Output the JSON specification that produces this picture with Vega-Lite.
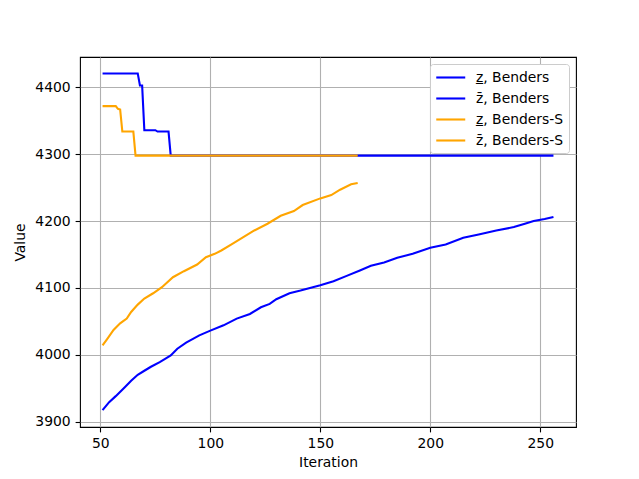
{
  "$schema": "https://vega.github.io/schema/vega-lite/v6.json",
  "width": 496,
  "height": 370,
  "autosize": "none",
  "padding": {"left": 80, "top": 57, "right": 63, "bottom": 52},
  "background": "white",
  "config": {
    "font": "DejaVu Sans",
    "view": {"stroke": "black", "strokeWidth": 1.1},
    "axis": {
      "domain": false,
      "grid": true,
      "gridColor": "#b0b0b0",
      "gridWidth": 1.1,
      "tickColor": "black",
      "tickSize": 4.9,
      "tickWidth": 1.1,
      "labelFontSize": 13.9,
      "labelColor": "black",
      "labelPadding": 4.9,
      "titleFontSize": 13.9,
      "titleFontWeight": "normal",
      "titleColor": "black"
    }
  },
  "data": {
    "values": [
      {"s": "z̲, Benders", "it": 51, "v": 3917},
      {"s": "z̲, Benders", "it": 54, "v": 3929},
      {"s": "z̲, Benders", "it": 57, "v": 3938},
      {"s": "z̲, Benders", "it": 61, "v": 3951},
      {"s": "z̲, Benders", "it": 64, "v": 3961},
      {"s": "z̲, Benders", "it": 67, "v": 3970},
      {"s": "z̲, Benders", "it": 70, "v": 3976},
      {"s": "z̲, Benders", "it": 73, "v": 3982},
      {"s": "z̲, Benders", "it": 77, "v": 3989},
      {"s": "z̲, Benders", "it": 80, "v": 3995},
      {"s": "z̲, Benders", "it": 82, "v": 3999},
      {"s": "z̲, Benders", "it": 85, "v": 4009},
      {"s": "z̲, Benders", "it": 89, "v": 4018},
      {"s": "z̲, Benders", "it": 95, "v": 4029},
      {"s": "z̲, Benders", "it": 100, "v": 4036},
      {"s": "z̲, Benders", "it": 106, "v": 4044},
      {"s": "z̲, Benders", "it": 112, "v": 4054},
      {"s": "z̲, Benders", "it": 118, "v": 4061},
      {"s": "z̲, Benders", "it": 123, "v": 4071},
      {"s": "z̲, Benders", "it": 127, "v": 4076},
      {"s": "z̲, Benders", "it": 130, "v": 4083},
      {"s": "z̲, Benders", "it": 136, "v": 4092},
      {"s": "z̲, Benders", "it": 141, "v": 4096},
      {"s": "z̲, Benders", "it": 150, "v": 4104},
      {"s": "z̲, Benders", "it": 156, "v": 4110},
      {"s": "z̲, Benders", "it": 162, "v": 4118},
      {"s": "z̲, Benders", "it": 168, "v": 4126},
      {"s": "z̲, Benders", "it": 173, "v": 4133},
      {"s": "z̲, Benders", "it": 179, "v": 4138},
      {"s": "z̲, Benders", "it": 185, "v": 4145},
      {"s": "z̲, Benders", "it": 192, "v": 4151},
      {"s": "z̲, Benders", "it": 200, "v": 4160},
      {"s": "z̲, Benders", "it": 207, "v": 4165},
      {"s": "z̲, Benders", "it": 215, "v": 4175},
      {"s": "z̲, Benders", "it": 222, "v": 4180},
      {"s": "z̲, Benders", "it": 230, "v": 4186},
      {"s": "z̲, Benders", "it": 238, "v": 4191},
      {"s": "z̲, Benders", "it": 243, "v": 4196},
      {"s": "z̲, Benders", "it": 247, "v": 4200},
      {"s": "z̲, Benders", "it": 252, "v": 4203},
      {"s": "z̲, Benders", "it": 256, "v": 4206},
      {"s": "z̄, Benders", "it": 51, "v": 4421},
      {"s": "z̄, Benders", "it": 67, "v": 4421},
      {"s": "z̄, Benders", "it": 68, "v": 4403},
      {"s": "z̄, Benders", "it": 69, "v": 4403},
      {"s": "z̄, Benders", "it": 70, "v": 4336},
      {"s": "z̄, Benders", "it": 75, "v": 4336},
      {"s": "z̄, Benders", "it": 76, "v": 4334},
      {"s": "z̄, Benders", "it": 81, "v": 4334},
      {"s": "z̄, Benders", "it": 82, "v": 4298},
      {"s": "z̄, Benders", "it": 256, "v": 4298},
      {"s": "z̲, Benders-S", "it": 51, "v": 4014},
      {"s": "z̲, Benders-S", "it": 53, "v": 4023},
      {"s": "z̲, Benders-S", "it": 56, "v": 4037},
      {"s": "z̲, Benders-S", "it": 59, "v": 4047},
      {"s": "z̲, Benders-S", "it": 62, "v": 4054},
      {"s": "z̲, Benders-S", "it": 64, "v": 4064},
      {"s": "z̲, Benders-S", "it": 67, "v": 4075},
      {"s": "z̲, Benders-S", "it": 70, "v": 4084},
      {"s": "z̲, Benders-S", "it": 74, "v": 4092},
      {"s": "z̲, Benders-S", "it": 78, "v": 4101},
      {"s": "z̲, Benders-S", "it": 83, "v": 4116},
      {"s": "z̲, Benders-S", "it": 88, "v": 4125},
      {"s": "z̲, Benders-S", "it": 94, "v": 4135},
      {"s": "z̲, Benders-S", "it": 98, "v": 4146},
      {"s": "z̲, Benders-S", "it": 102, "v": 4151},
      {"s": "z̲, Benders-S", "it": 105, "v": 4156},
      {"s": "z̲, Benders-S", "it": 110, "v": 4166},
      {"s": "z̲, Benders-S", "it": 115, "v": 4176},
      {"s": "z̲, Benders-S", "it": 120, "v": 4186},
      {"s": "z̲, Benders-S", "it": 126, "v": 4196},
      {"s": "z̲, Benders-S", "it": 132, "v": 4208},
      {"s": "z̲, Benders-S", "it": 138, "v": 4215},
      {"s": "z̲, Benders-S", "it": 142, "v": 4224},
      {"s": "z̲, Benders-S", "it": 150, "v": 4234},
      {"s": "z̲, Benders-S", "it": 155, "v": 4239},
      {"s": "z̲, Benders-S", "it": 159, "v": 4247},
      {"s": "z̲, Benders-S", "it": 164, "v": 4255},
      {"s": "z̲, Benders-S", "it": 167, "v": 4257},
      {"s": "z̄, Benders-S", "it": 51, "v": 4372},
      {"s": "z̄, Benders-S", "it": 57, "v": 4372},
      {"s": "z̄, Benders-S", "it": 58, "v": 4368},
      {"s": "z̄, Benders-S", "it": 59, "v": 4367},
      {"s": "z̄, Benders-S", "it": 60, "v": 4334},
      {"s": "z̄, Benders-S", "it": 65, "v": 4334},
      {"s": "z̄, Benders-S", "it": 66, "v": 4298},
      {"s": "z̄, Benders-S", "it": 167, "v": 4298}
    ]
  },
  "mark": {"type": "line", "strokeWidth": 2.1, "clip": true},
  "encoding": {
    "x": {
      "field": "it",
      "type": "quantitative",
      "scale": {"domain": [40.75, 266.25], "nice": false, "zero": false},
      "axis": {"values": [50, 100, 150, 200, 250], "title": "Iteration", "titlePadding": 5}
    },
    "y": {
      "field": "v",
      "type": "quantitative",
      "scale": {"domain": [3891.8, 4445.6], "nice": false, "zero": false},
      "axis": {"values": [3900, 4000, 4100, 4200, 4300, 4400], "format": "d", "title": "Value", "titlePadding": 7}
    },
    "color": {
      "field": "s",
      "type": "nominal",
      "scale": {
        "domain": ["z̲, Benders", "z̄, Benders", "z̲, Benders-S", "z̄, Benders-S"],
        "range": ["#0000ff", "#0000ff", "#ffa500", "#ffa500"]
      },
      "legend": {
        "title": null,
        "orient": "top-right",
        "offset": 7,
        "fillColor": "white",
        "strokeColor": "#cccccc",
        "cornerRadius": 3,
        "padding": 5,
        "symbolType": "M-1,0H3",
        "symbolSize": 210,
        "symbolStrokeWidth": 2.1,
        "labelFontSize": 13.9,
        "labelColor": "black",
        "labelOffset": 24,
        "rowPadding": 5
      }
    }
  }
}
